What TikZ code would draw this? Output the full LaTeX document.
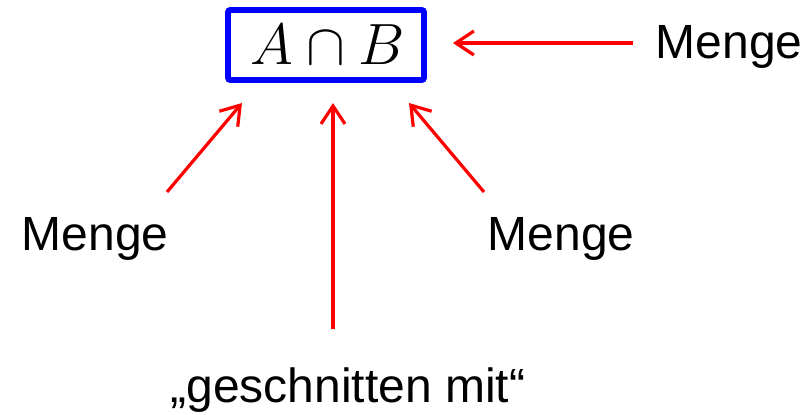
\documentclass[tikz,border=0pt]{standalone}
\usepackage{fontspec}
\setmainfont{Liberation Sans}
\usetikzlibrary{arrows.meta}
\begin{document}
\begin{tikzpicture}[x=0.5pt,y=-0.5pt,
  lbl/.style={inner sep=0pt,font=\fontsize{24}{28}\selectfont},
  redarrow/.style={draw=red,line width=1.6pt,-{Straight Barb[length=9pt,width=12pt]}},
  setbox/.style={draw=blue,line width=2.8pt,rounded corners=1pt,minimum width=98pt,minimum height=35pt,inner sep=0pt}]
\useasboundingbox (0,0) rectangle (811,414);
\node[setbox] (box) at (326,45) {};
\node[inner sep=0pt,scale=1.17] (expr) at (327.5,45) {\fontsize{24.88}{30}\selectfont$A\cap B$};
\node[lbl,anchor=base west] (mtop) at (655.5,58) {Menge};
\node[lbl,anchor=base west] (mleft) at (21.5,250) {Menge};
\node[lbl,anchor=base west] (mright) at (487.5,250) {Menge};
\node[lbl,anchor=base] (gm) at (348,402) {„geschnitten mit“};
\coordinate (t1) at (633,43);
\coordinate (h1) at (453,43);
\coordinate (t2) at (167,192);
\coordinate (h2) at (242,103);
\coordinate (t3) at (333,329);
\coordinate (h3) at (333,103);
\coordinate (t4) at (484,192);
\coordinate (h4) at (409,103);
\draw[redarrow] (t1) -- (h1);
\draw[redarrow] (t2) -- (h2);
\draw[redarrow] (t3) -- (h3);
\draw[redarrow] (t4) -- (h4);
\end{tikzpicture}
\end{document}
